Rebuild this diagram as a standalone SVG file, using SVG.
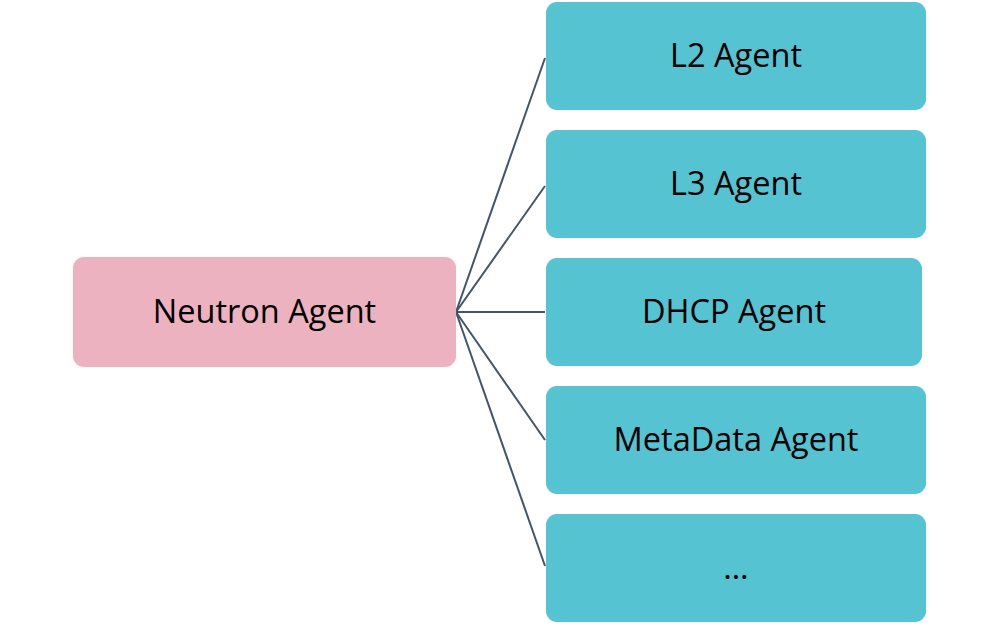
<svg xmlns="http://www.w3.org/2000/svg" width="1000" height="625" viewBox="0 0 1000 625">
<style>
.t{font-family:"Open Sans","Noto Sans","Liberation Sans",sans-serif;font-size:32.5px;fill:#000;text-anchor:middle;dominant-baseline:central}
.b{fill:#56c3d2}
.p{fill:#ecb2c0}
.c{stroke:#44546a;stroke-width:2;fill:none}
</style>
<rect width="1000" height="625" fill="#fff"/>
<g id="connectors">
<line class="c" x1="456" y1="312" x2="545" y2="58"/>
<line class="c" x1="456" y1="312" x2="545" y2="186"/>
<line class="c" x1="456" y1="312" x2="545" y2="312"/>
<line class="c" x1="456" y1="312" x2="545" y2="440"/>
<line class="c" x1="456" y1="312" x2="545" y2="566"/>
</g>
<g id="neutron"><rect class="p" x="73" y="257" width="383" height="110" rx="11"/><text class="t" x="264.5" y="310">Neutron Agent</text></g>
<g id="l2"><rect class="b" x="546" y="2" width="380" height="108" rx="11"/><text class="t" x="736" y="54">L2 Agent</text></g>
<g id="l3"><rect class="b" x="546" y="130" width="380" height="108" rx="11"/><text class="t" x="736" y="182">L3 Agent</text></g>
<g id="dhcp"><rect class="b" x="546" y="258" width="376" height="108" rx="11"/><text class="t" x="734" y="310">DHCP Agent</text></g>
<g id="metadata"><rect class="b" x="546" y="386" width="380" height="108" rx="11"/><text class="t" x="736" y="438">MetaData Agent</text></g>
<g id="more"><rect class="b" x="546" y="514" width="380" height="108" rx="11"/><text class="t" x="736" y="566">…</text></g>
</svg>
